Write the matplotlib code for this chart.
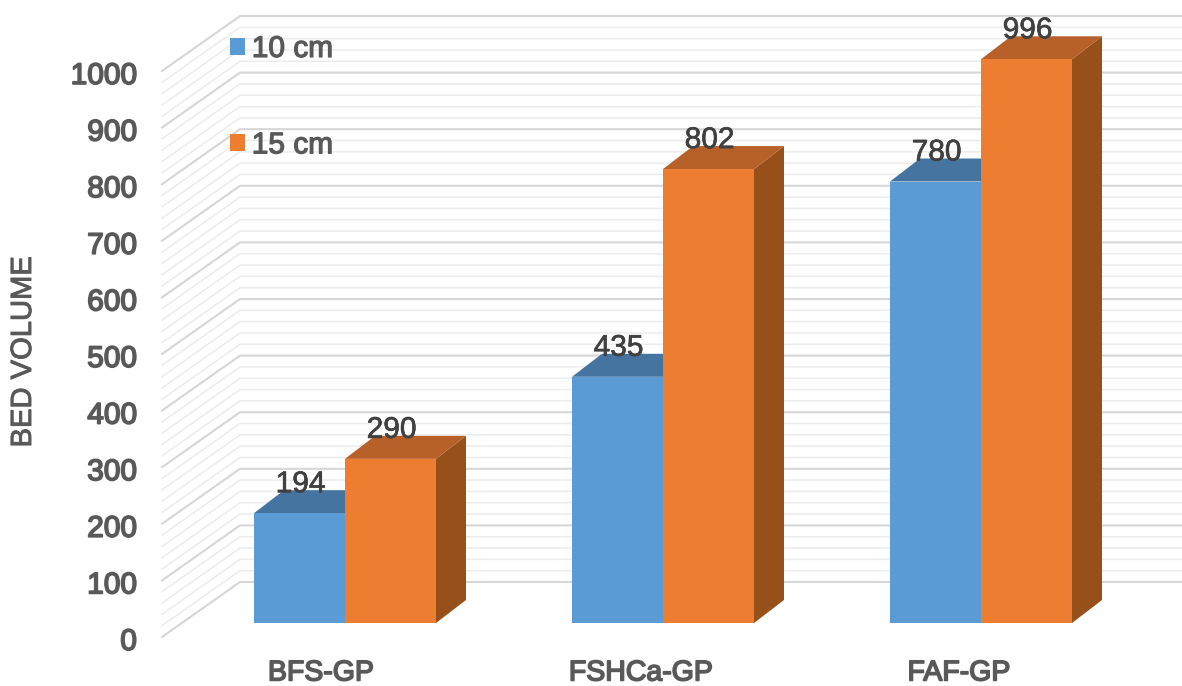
import numpy as np
import matplotlib
matplotlib.use("Agg")
import matplotlib.pyplot as plt
import matplotlib.patheffects as pe
from matplotlib.patches import Polygon, Patch
from matplotlib.transforms import ScaledTranslation

plt.rcParams["font.family"] = ["Liberation Sans", "DejaVu Sans"]

categories = ["BFS-GP", "FSHCa-GP", "FAF-GP"]
series_names = ["10 cm", "15 cm"]
values_10cm = [194, 435, 780]
values_15cm = [290, 802, 996]
axis_ticks = list(range(0, 1001, 100))

W, H = 1182, 686
DPI = 100
PX_PER_VALUE = 0.566
PX_PER_CATEGORY = 318.0
AX_LEFT, AX_BOTTOM = 150, 650
BASE_PX_X, BASE_PX_Y = 345, 623   # category 0, value 0 on the bar front plane


def x_of(px):
    return (px - BASE_PX_X) / PX_PER_CATEGORY


def v_of(px):
    return (BASE_PX_Y - px) / PX_PER_VALUE


def thicken(text, color, width=0.7):
    # Medium-weight look: the family has only regular and bold faces
    text.set_path_effects([pe.withStroke(linewidth=width, foreground=color)])


fig = plt.figure(figsize=(W / DPI, H / DPI), dpi=DPI, facecolor="white")
ax = fig.add_axes([AX_LEFT / W, (H - AX_BOTTOM) / H, (W - AX_LEFT) / W, AX_BOTTOM / H])
ax.set_xlim(x_of(AX_LEFT), x_of(W))
ax.set_ylim(v_of(AX_BOTTOM), v_of(0))
for spine in ax.spines.values():
    spine.set_visible(False)

# Back wall and side wall gridlines, major every 100 and minor every 20
wall_front_x, wall_back_x = x_of(162), x_of(240)
wall_front_shift = v_of(637)
wall_back_shift = v_of(582)
for v in range(0, 1001, 20):
    major = v % 100 == 0
    ax.plot([wall_front_x, wall_back_x, x_of(W)],
            [v + wall_front_shift, v + wall_back_shift, v + wall_back_shift],
            color="#d6d6d6" if major else "#ececec",
            lw=1.5 if major else 1.1, zorder=1, solid_joinstyle="miter")

# Oblique 3D bars
BAR_W = 91 / PX_PER_CATEGORY
DEPTH_X = 30 / PX_PER_CATEGORY
DEPTH_V = 23 / PX_PER_VALUE
faces = {"10 cm": ("#5B9BD5", "#44749F", "#3F6F9E"),
         "15 cm": ("#ED7D31", "#B8602A", "#975019")}


def draw_bar(x0, value, colors, z):
    front, top, side = colors
    x1 = x0 + BAR_W
    ax.add_patch(Polygon([(x1, 0), (x1 + DEPTH_X, DEPTH_V),
                          (x1 + DEPTH_X, value + DEPTH_V), (x1, value)],
                         fc=side, ec="none", zorder=z))
    ax.add_patch(Polygon([(x0, value), (x0 + DEPTH_X, value + DEPTH_V),
                          (x1 + DEPTH_X, value + DEPTH_V), (x1, value)],
                         fc=top, ec="none", zorder=z))
    ax.bar(x0, value, width=BAR_W, align="edge", color=front, zorder=z + 0.5)
    label = ax.annotate(str(value), xy=(x0 + BAR_W / 2, value), xytext=(1, 29),
                        textcoords="offset pixels", ha="center", va="center",
                        fontsize=21.5, color="#404040", zorder=10)
    thicken(label, "#404040", 0.5)


for i in range(len(categories)):
    draw_bar(i - BAR_W, values_10cm[i], faces["10 cm"], 3 + 2 * i)
    draw_bar(i, values_15cm[i], faces["15 cm"], 4 + 2 * i)

# Value axis labels sit on the front edge of the side wall
ax.set_yticks([v + wall_front_shift for v in axis_ticks], labels=[str(v) for v in axis_ticks])
ax.tick_params(axis="y", length=0, pad=9.5, labelsize=21.5, labelcolor="#595959")
for lab in ax.get_yticklabels():
    thicken(lab, "#595959", 1.2)
    lab.set_transform(lab.get_transform() + ScaledTranslation(0, -2 / DPI, fig.dpi_scale_trans))
ax.set_ylabel("BED VOLUME", fontsize=21, color="#595959")
ax.yaxis.set_label_coords((37 - AX_LEFT) / (W - AX_LEFT), (AX_BOTTOM - 352) / AX_BOTTOM)
thicken(ax.yaxis.label, "#595959", 0.7)

# Category labels, nudged toward the front of each group
ax.set_xticks(range(len(categories)), labels=categories)
ax.tick_params(axis="x", length=0, pad=7.5, labelsize=20.5, labelcolor="#595959")
for lab, shift in zip(ax.get_xticklabels(), [-24, -22, -22]):
    thicken(lab, "#595959", 1.2)
    lab.set_transform(lab.get_transform() + ScaledTranslation(shift / DPI, 0, fig.dpi_scale_trans))

# Widely spaced legend over the back wall
handles = [Patch(fc=faces[n][0], ec="none") for n in series_names]
leg = ax.legend(handles, series_names, loc="upper left",
                bbox_to_anchor=((221 - AX_LEFT) / (W - AX_LEFT), 1 - 26 / AX_BOTTOM),
                frameon=False, fontsize=21.5, labelspacing=2.29, handlelength=0.5,
                handleheight=0.5, handletextpad=0.23, borderpad=0.3, borderaxespad=0)
for t in leg.get_texts():
    t.set_color("#595959")
    thicken(t, "#595959", 0.9)
leg.set_zorder(9)

fig.savefig("out.png", dpi=DPI, facecolor="white")
